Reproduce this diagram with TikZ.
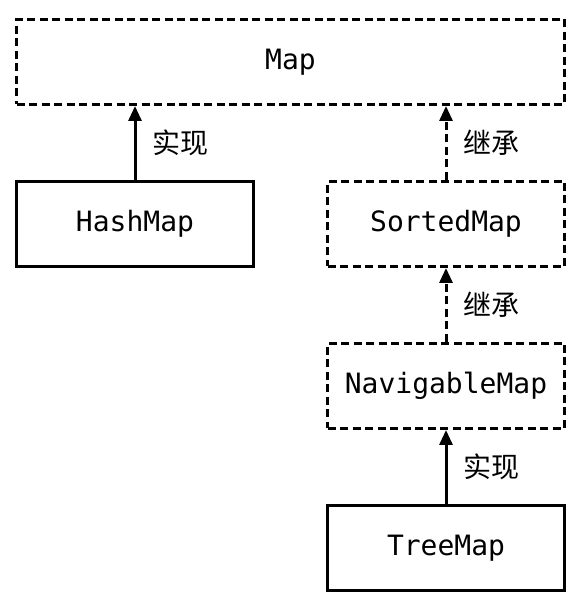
\documentclass[tikz,border=0pt]{standalone}
\usepackage{fontspec}
\setmonofont{DejaVu Sans Mono}
\newfontfamily\cjk{Noto Sans CJK SC}
\usepackage{tikz}
\usetikzlibrary{arrows.meta,positioning}

\begin{document}
\begin{tikzpicture}[x=1pt, y=1pt,
    node distance=74pt and 72pt,
    box/.style={draw, line width=3pt, minimum width=237pt, minimum height=85pt,
      font=\ttfamily\fontsize{28}{30}\selectfont, inner sep=0pt},
    ibox/.style={box, line width=3pt, dash pattern=on 8pt off 4.5pt},
    link/.style={->, line width=3pt},
    lbl/.style={font=\cjk\fontsize{28}{30}\selectfont, right=13pt},
    >={Triangle[length=15pt, width=13pt]}]
    \useasboundingbox (0,0) rectangle (581,611);
    \node[ibox, minimum width=548pt] (map) at (290.5,549) {Map};
    \node[box, below=of map.south west, anchor=north west] (hash) {HashMap};
    \node[ibox, below=of map.south east, anchor=north east] (sorted) {SortedMap};
    \node[ibox, below=of sorted] (nav) {NavigableMap};
    \node[box, below=of nav] (tree) {TreeMap};
    \draw[link] (hash) -- node[lbl] {实现} (hash |- map.south);
    \draw[link, dash pattern=on 8pt off 4.5pt] (sorted) -- node[lbl] {继承} (sorted |- map.south);
    \draw[link, dash pattern=on 8pt off 4.5pt] (nav) -- node[lbl] {继承} (sorted);
    \draw[link] (tree) -- node[lbl] {实现} (nav);
  \end{tikzpicture}
\end{document}
